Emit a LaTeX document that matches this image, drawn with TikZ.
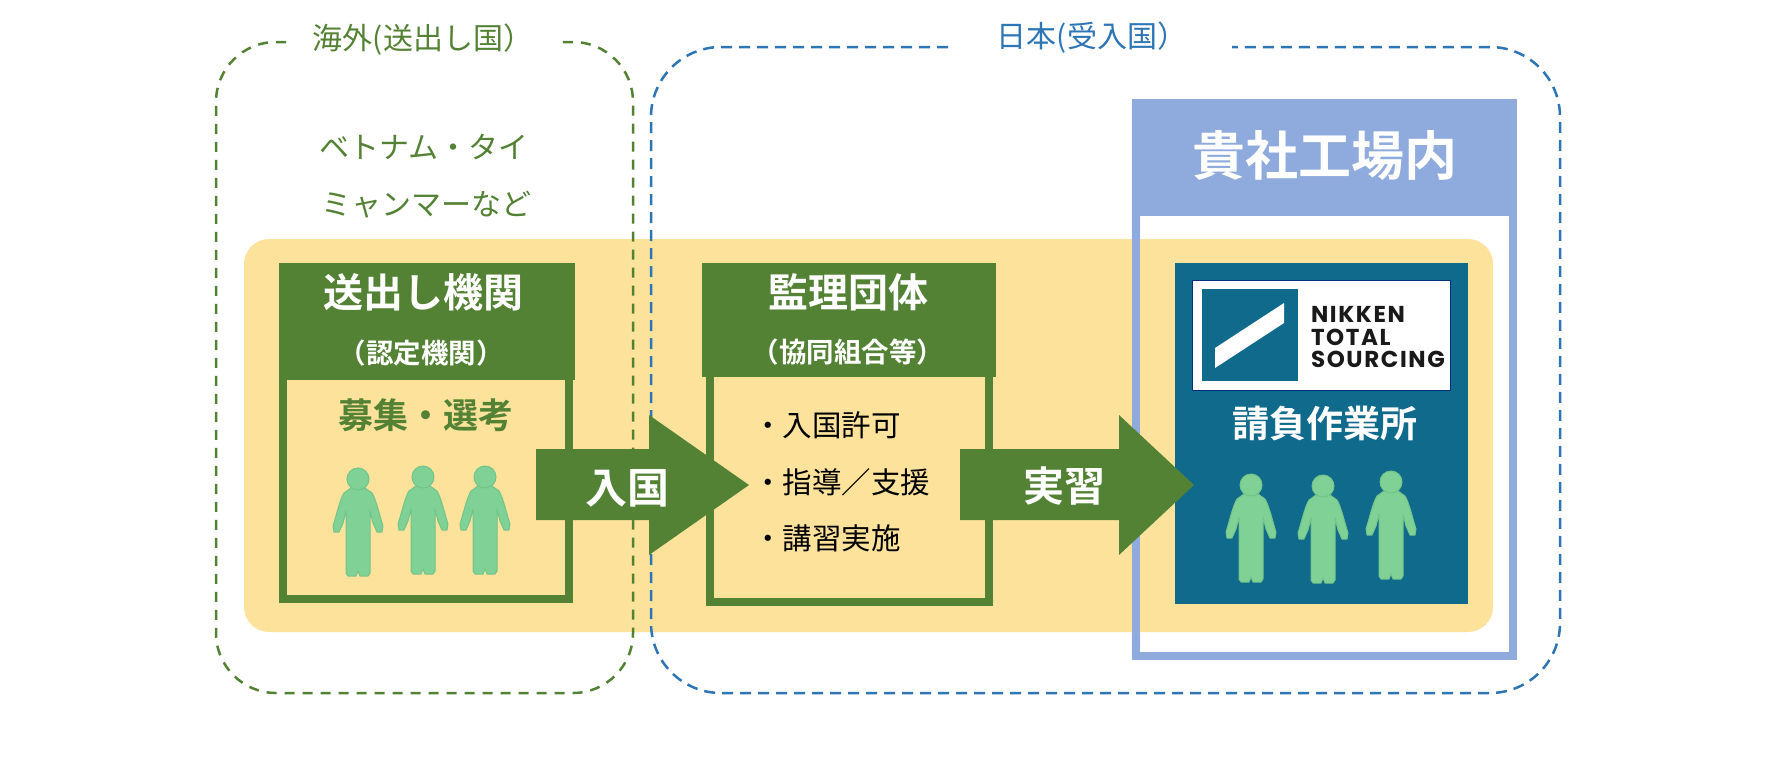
\documentclass[tikz,border=0pt]{standalone}
\usepackage{fontspec}
\setmainfont{Noto Sans CJK JP}[BoldFont={Noto Sans CJK JP Bold}]
\newfontfamily\logofont{Poppins}[LetterSpace=7]
\definecolor{grn}{HTML}{548235}
\definecolor{yel}{HTML}{FDE29B}
\definecolor{frameblue}{HTML}{8FAADC}
\definecolor{teal}{HTML}{0F6A8C}
\definecolor{dashblue}{HTML}{2E75B6}
\definecolor{fig}{HTML}{7FD196}
\definecolor{figedge}{HTML}{74C48A}
\newcommand{\px}[1]{\fontsize{#1}{#1}\selectfont}
\tikzset{
  lbl/.style={inner sep=0pt,outer sep=0pt,anchor=center},
  greendash/.style={draw=grn,line width=2.5pt,dash pattern=on 10pt off 8pt,rounded corners=60pt},
  bluedash/.style={draw=dashblue,line width=2.5pt,dash pattern=on 11pt off 7pt,rounded corners=70pt},
  blockarrow/.style={fill=grn,draw=none},
  person/.pic={
    \fill[fig,draw=figedge,line width=1pt,line join=round]
      (-7,9) -- (-14,14) .. controls (-18,20) and (-22,38) .. (-25,47)
      -- (-24,53) -- (-19,53) -- (-15,44) -- (-12,32) -- (-12,94) -- (-10,97) -- (-2,97) -- (0,92)
      -- (2,97) -- (10,97) -- (12,94) -- (12,32) -- (15,44) -- (19,53) -- (24,53) -- (25,47)
      .. controls (22,38) and (18,20) .. (14,14) -- (7,9) -- cycle;
    \fill[fig,draw=figedge,line width=1pt] (0,0) circle (11);
  }
}
\begin{document}
\begin{tikzpicture}[x=1pt,y=-1pt]
\useasboundingbox (0,0) rectangle (1767,769);
% factory background, then shared yellow band
\fill[white] (1132,99) rectangle (1517,660);
\fill[yel,rounded corners=25pt] (244,239) rectangle (1493,632);
% region outlines
\draw[greendash] (286,42) -- (216,42) -- (216,693) -- (633,693) -- (633,42) -- (559,42);
\draw[bluedash] (948,47) -- (651,47) -- (651,693) -- (1560,693) -- (1560,47) -- (1232,47);
\node[lbl,text=grn] (overseas) at (423,40) {\px{30}海外(送出し国）};
\node[lbl,text=dashblue] (japan) at (1092,38) {\px{30}日本(受入国）};
\node[lbl,text=grn] (countries1) at (424,147) {\px{30}ベトナム・タイ};
\node[lbl,text=grn] (countries2) at (426,205) {\px{30}ミャンマーなど};
% factory frame
\draw[frameblue,line width=8pt] (1136,103) rectangle (1513,656);
\fill[frameblue] (1132,99) rectangle (1517,216);
\node[lbl,text=white] (factory) at (1325,155) {\px{53}\bfseries 貴社工場内};
% sending organisation
\draw[grn,line width=8pt] (283,376) rectangle (569,599);
\fill[grn] (279,263) rectangle (575,380);
\node[lbl,text=white] (send) at (423,292) {\px{40}\bfseries 送出し機関};
\node[lbl,text=white] (sendsub) at (421,353) {\px{27.5}\bfseries （認定機関）};
\node[lbl,text=grn] (recruit) at (426,415) {\px{35}\bfseries 募集・選考};
% supervising organisation
\draw[grn,line width=8pt] (710,372) rectangle (989,602);
\fill[grn] (702,263) rectangle (996,377);
\node[lbl,text=white] (super) at (848,292) {\px{40}\bfseries 監理団体};
\node[lbl,text=white] (supersub) at (848,352) {\px{27.5}\bfseries （協同組合等）};
\node[lbl,anchor=west] (item1) at (753,425) {\px{29.5}・入国許可};
\node[lbl,anchor=west] (item2) at (753,482) {\px{29.5}・指導／支援};
\node[lbl,anchor=west] (item3) at (753,538) {\px{29.5}・講習実施};
% site
\fill[teal] (1175,263) rectangle (1468,604);
\draw[draw=teal!60!blue!70!black,fill=white,line width=1pt] (1192,280) rectangle (1450,390);
\fill[teal] (1202,289) rectangle (1298,381);
\fill[white] (1215,348) -- (1284,303) -- (1284,323) -- (1215,368) -- cycle;
\node[lbl,anchor=west,text=black!90] (logo1) at (1311,314) {\logofont\px{23}\bfseries NIKKEN};
\node[lbl,anchor=west,text=black!90] (logo2) at (1311,337) {\logofont\px{23}\bfseries TOTAL};
\node[lbl,anchor=west,text=black!90] (logo3) at (1311,359) {\logofont\px{23}\bfseries SOURCING};
\node[lbl,text=white] (site) at (1325,424) {\px{37}\bfseries 請負作業所};
% people
\pic at (358,479) {person};
\pic at (423,477) {person};
\pic at (485,477) {person};
\pic at (1251,485) {person};
\pic at (1323,486) {person};
\pic at (1391,482) {person};
% block arrows
\fill[blockarrow] (536,449) -- (649,449) -- (649,415) -- (749,485) -- (649,555) -- (649,520) -- (536,520) -- cycle;
\fill[blockarrow] (960,449) -- (1119,449) -- (1119,415) -- (1194,485) -- (1119,555) -- (1119,520) -- (960,520) -- cycle;
\node[lbl,text=white] (entry) at (627,488) {\px{42}\bfseries 入国};
\node[lbl,text=white] (training) at (1064,486) {\px{41}\bfseries 実習};
\end{tikzpicture}
\end{document}
